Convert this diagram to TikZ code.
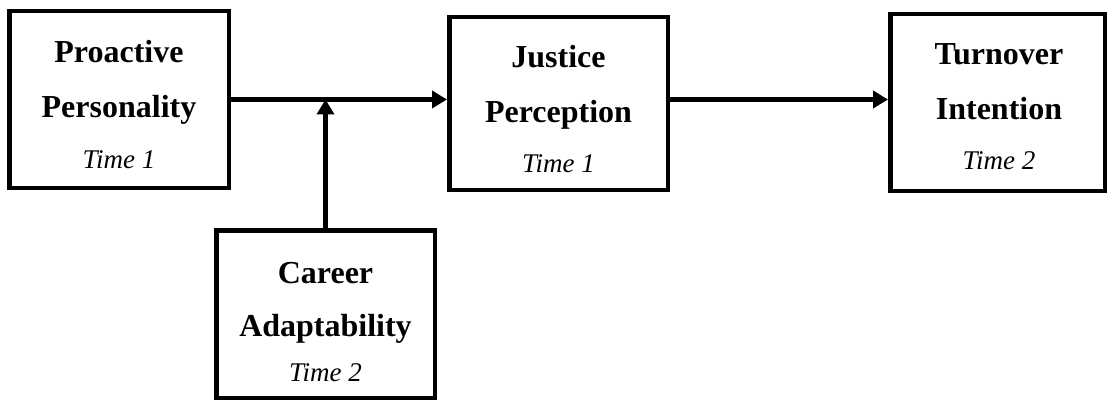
\documentclass[tikz,border=0pt]{standalone}
\usepackage{fontspec}
\setmainfont{Liberation Serif}
\usetikzlibrary{arrows.meta}
\begin{document}
\begin{tikzpicture}[x=1pt,y=-1pt,
  box/.style={draw=black, line width=4.5pt, inner sep=0pt},
  bt/.style={font=\fontsize{32}{32}\selectfont\bfseries, anchor=base, inner sep=0pt},
  it/.style={font=\fontsize{27}{27}\selectfont\itshape, anchor=base, inner sep=0pt},
  arr/.style={line width=4.5pt, -{Triangle[length=15pt,width=17pt]}}]
\useasboundingbox (0,0) rectangle (1114,401);
% boxes
\node[box, minimum width=219.5pt, minimum height=176.5pt] (A) at (119,99.5) {};
\node[box, minimum width=218.5pt, minimum height=172.5pt] (B) at (558.5,103.5) {};
\node[box, minimum width=214.5pt, minimum height=176.5pt] (C) at (997.5,102.5) {};
\node[box, minimum width=218.5pt, minimum height=167.5pt] (D) at (325.5,314) {};
% texts
\node[bt] (a1) at (119,63) {Proactive};
\node[bt] (a2) at (119,118) {Personality};
\node[it] (a3) at (119,168) {Time 1};
\node[bt] (b1) at (558.5,68) {Justice};
\node[bt] (b2) at (558.5,123) {Perception};
\node[it] (b3) at (558.5,172) {Time 1};
\node[bt] (c1) at (999,65) {Turnover};
\node[bt] (c2) at (999,120) {Intention};
\node[it] (c3) at (999,170) {Time 2};
\node[bt] (d1) at (325.5,283) {Career};
\node[bt] (d2) at (325.5,336) {Adaptability};
\node[it] (d3) at (325.5,381) {Time 2};
% connectors
\coordinate (m) at (D.north |- A.east);
\draw[arr] (A.east) -- (A.east -| B.west);
\draw[arr] (D.north) -- (m);
\draw[arr] (B.east |- A.east) -- (A.east -| C.west);
\end{tikzpicture}
\end{document}
